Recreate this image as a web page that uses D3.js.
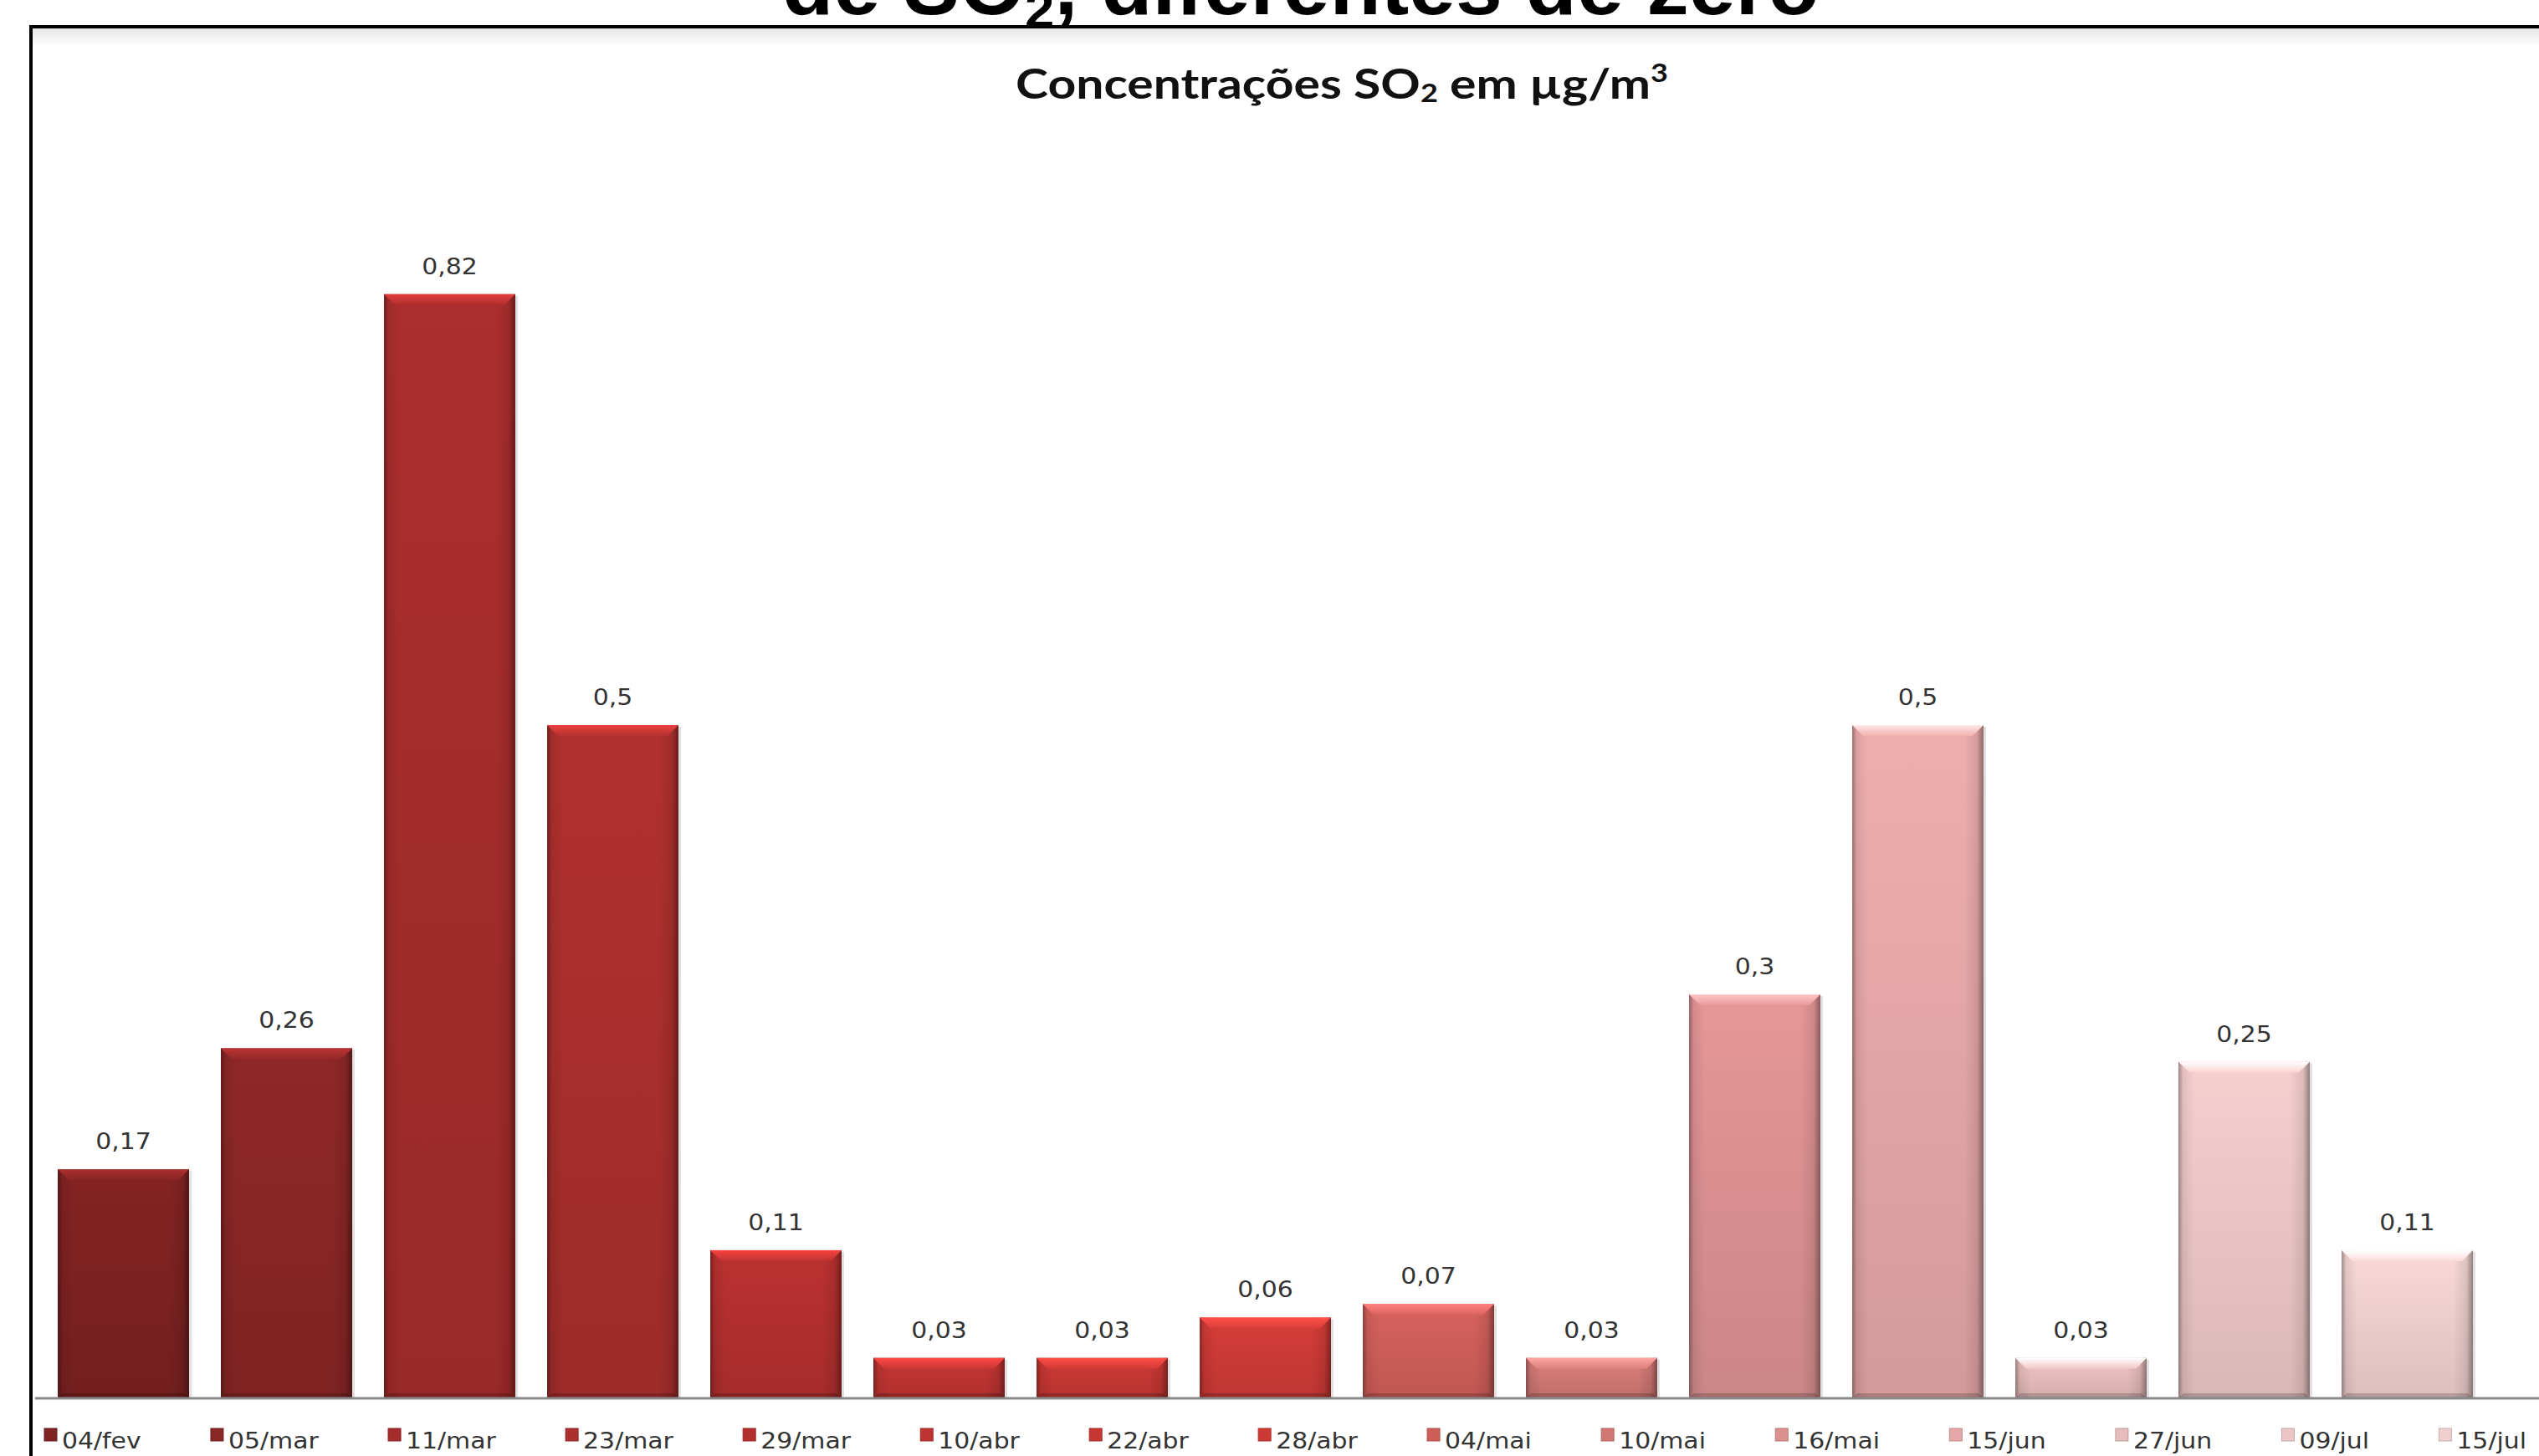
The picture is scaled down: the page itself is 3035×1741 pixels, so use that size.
<!DOCTYPE html>
<html>
<head>
<meta charset="utf-8">
<script src="https://cdn.jsdelivr.net/npm/d3@7"></script>
<style>
  html, body { margin: 0; padding: 0; background: #ffffff; overflow: hidden; }
  svg { display: block; }
</style>
</head>
<body>
<svg id="chart" width="3035" height="1741"></svg>
<script>
// Sampling dates (legend / categories)
const categories = ["04/fev", "05/mar", "11/mar", "23/mar", "29/mar", "10/abr", "22/abr", "28/abr",
                    "04/mai", "10/mai", "16/mai", "15/jun", "27/jun", "09/jul", "15/jul"];
// SO2 concentration, µg/m³
const values = [0.17, 0.26, 0.82, 0.5, 0.11, 0.03, 0.03, 0.06, 0.07, 0.03, 0.3, 0.5, 0.03, 0.25, 0.11];
// One fill per date, dark red fading to pale pink
const palette = ["#7e2222", "#892626", "#a52c2c", "#aa2f2d", "#b3302e", "#be3431", "#c63733", "#cd3a36",
                 "#cf5e5a", "#d17875", "#dc9191", "#e5a7a7", "#e6bcbc", "#ecc6c6", "#efcfcf"];

const W = 3035, H = 1741;
const svg = d3.select("#chart");
const defs = svg.append("defs");

// Portuguese number formatting (decimal comma)
const ptBR = d3.formatLocale({ decimal: ",", thousands: ".", grouping: [3], currency: ["R$", ""] });
const fmt = ptBR.format(".2~f");

const x = d3.scaleBand()
  .domain(categories)
  .range([50, 2975])
  .paddingInner(0.195)
  .paddingOuter(0.0975);

const y = d3.scaleLinear().domain([0, 0.9]).range([1672, 223]);

const color = d3.scaleOrdinal().domain(categories).range(palette);

// ---------- page heading (partly above the page edge) ----------
const head = svg.append("text")
  .attr("font-family", "'Liberation Sans', Arial, sans-serif")
  .attr("font-weight", 700)
  .attr("font-size", 98)
  .attr("fill", "#000")
  .attr("text-anchor", "middle");
head.append("tspan").text("de SO");
head.append("tspan").attr("font-size", 62).attr("dy", 16).text("2");
head.append("tspan").attr("dy", -16).text(", diferentes de zero");
{
  const bb = head.node().getBBox();
  const sx = 1240 / bb.width;
  head.attr("transform", `translate(1555,17) scale(${sx},1)`);
}

// ---------- chart frame ----------
const shade = defs.append("linearGradient").attr("id", "frameShade")
  .attr("x1", 0).attr("y1", 0).attr("x2", 0).attr("y2", 1);
shade.append("stop").attr("offset", 0).attr("stop-color", "#e6e6e6");
shade.append("stop").attr("offset", 1).attr("stop-color", "#ffffff");
svg.append("rect").attr("x", 39).attr("y", 34).attr("width", W).attr("height", 22)
  .attr("fill", "url(#frameShade)");
svg.append("rect")
  .attr("x", 37).attr("y", 32)
  .attr("width", W + 20).attr("height", H + 20)
  .attr("fill", "none")
  .attr("stroke", "#000")
  .attr("stroke-width", 4);

// ---------- chart title ----------
const title = svg.append("text")
  .attr("font-family", "Lato, 'Open Sans', sans-serif")
  .attr("font-weight", 700)
  .attr("font-size", 49)
  .attr("fill", "#111")
  .attr("text-anchor", "middle");
title.append("tspan").text("Concentrações SO");
title.append("tspan").attr("font-size", 30).attr("dy", 4).text("2");
title.append("tspan").attr("dy", -4).text(" em µg/m");
title.append("tspan").attr("font-size", 30).attr("dy", -20).text("3");
{
  const bb = title.node().getBBox();
  const sx = 780 / bb.width;
  title.attr("transform", `translate(1604,118) scale(${sx},1)`);
}

// ---------- gradients for the bevelled bars ----------
categories.forEach((c, i) => {
  const base = d3.color(palette[i]);
  const g = defs.append("linearGradient").attr("id", `bar${i}`)
    .attr("x1", 0).attr("y1", 0).attr("x2", 0).attr("y2", 1);
  g.append("stop").attr("offset", 0).attr("stop-color", base.brighter(0.12).formatHex());
  g.append("stop").attr("offset", 1).attr("stop-color", base.darker(0.22).formatHex());

  const t = defs.append("linearGradient").attr("id", `bevel${i}`)
    .attr("x1", 0).attr("y1", 0).attr("x2", 0).attr("y2", 1);
  t.append("stop").attr("offset", 0).attr("stop-color", base.brighter(0.9).formatHex());
  t.append("stop").attr("offset", 1).attr("stop-color", base.brighter(0.15).formatHex());
});
const side = defs.append("linearGradient").attr("id", "sideShade")
  .attr("x1", 0).attr("y1", 0).attr("x2", 1).attr("y2", 0);
[[0, 0.35], [0.035, 0.08], [0.12, 0], [0.85, 0], [0.95, 0.1], [1, 0.4]].forEach(([o, a]) =>
  side.append("stop").attr("offset", o).attr("stop-color", "#000").attr("stop-opacity", a));

// ---------- bars ----------
const bw = x.bandwidth();
const bev = 13;
const bars = svg.append("g").selectAll("g")
  .data(categories.map((c, i) => ({ c, v: values[i], i })))
  .join("g");

bars.append("rect")
  .attr("x", d => x(d.c) + 3).attr("y", d => y(d.v) + 2)
  .attr("width", bw).attr("height", d => y(0) - y(d.v) - 2)
  .attr("fill", "#000").attr("fill-opacity", 0.12);

bars.append("rect")
  .attr("x", d => x(d.c)).attr("y", d => y(d.v))
  .attr("width", bw).attr("height", d => y(0) - y(d.v))
  .attr("fill", d => `url(#bar${d.i})`);

bars.append("rect")
  .attr("x", d => x(d.c)).attr("y", d => y(d.v))
  .attr("width", bw).attr("height", d => y(0) - y(d.v))
  .attr("fill", "url(#sideShade)");

bars.append("path")
  .attr("d", d => {
    const x0 = x(d.c), x1 = x0 + bw, y0 = y(d.v);
    return `M${x0},${y0}L${x1},${y0}L${x1 - bev},${y0 + bev}L${x0 + bev},${y0 + bev}Z`;
  })
  .attr("fill", d => `url(#bevel${d.i})`);

bars.append("path")
  .attr("d", d => {
    const x0 = x(d.c), x1 = x0 + bw, y1 = y(0);
    return `M${x0},${y1}L${x1},${y1}L${x1 - 6},${y1 - 6}L${x0 + 6},${y1 - 6}Z`;
  })
  .attr("fill", "#000").attr("fill-opacity", 0.18);

// ---------- baseline ----------
svg.append("line")
  .attr("x1", 42).attr("x2", W)
  .attr("y1", y(0)).attr("y2", y(0))
  .attr("stroke", "#8a8a8a").attr("stroke-width", 3);

// ---------- value labels ----------
const labelFont = "'DejaVu Sans', Verdana, sans-serif";
const sxText = 1.15;
svg.append("g").selectAll("text")
  .data(categories.map((c, i) => ({ c, v: values[i] })))
  .join("text")
  .attr("transform", d => `translate(${x(d.c) + bw / 2},${y(d.v) - 24}) scale(${sxText},1)`)
  .attr("text-anchor", "middle")
  .attr("font-family", labelFont)
  .attr("font-size", 26)
  .attr("fill", "#333")
  .text(d => fmt(d.v));

// ---------- legend ----------
const legend = svg.append("g");
const items = legend.selectAll("g").data(categories).join("g");
const mk = 15, mgap = 6;
items.append("rect")
  .attr("x", 0).attr("y", -24)
  .attr("width", mk).attr("height", mk)
  .attr("fill", d => color(d))
  .attr("stroke", d => d3.color(color(d)).darker(0.5).formatHex())
  .attr("stroke-width", 1);
items.append("text")
  .attr("transform", `translate(${mk + mgap},0) scale(${sxText},1)`)
  .attr("font-family", labelFont)
  .attr("font-size", 26)
  .attr("fill", "#333")
  .text(d => d);

const widths = items.nodes().map(n => mk + mgap + n.querySelector("text").getComputedTextLength() * sxText);
const lx0 = 53, lx1 = 3020;
const gap = (lx1 - lx0 - d3.sum(widths)) / (categories.length - 1);
let cx = lx0;
items.each(function (d, i) {
  d3.select(this).attr("transform", `translate(${cx},1732)`);
  cx += widths[i] + gap;
});
</script>
</body>
</html>
